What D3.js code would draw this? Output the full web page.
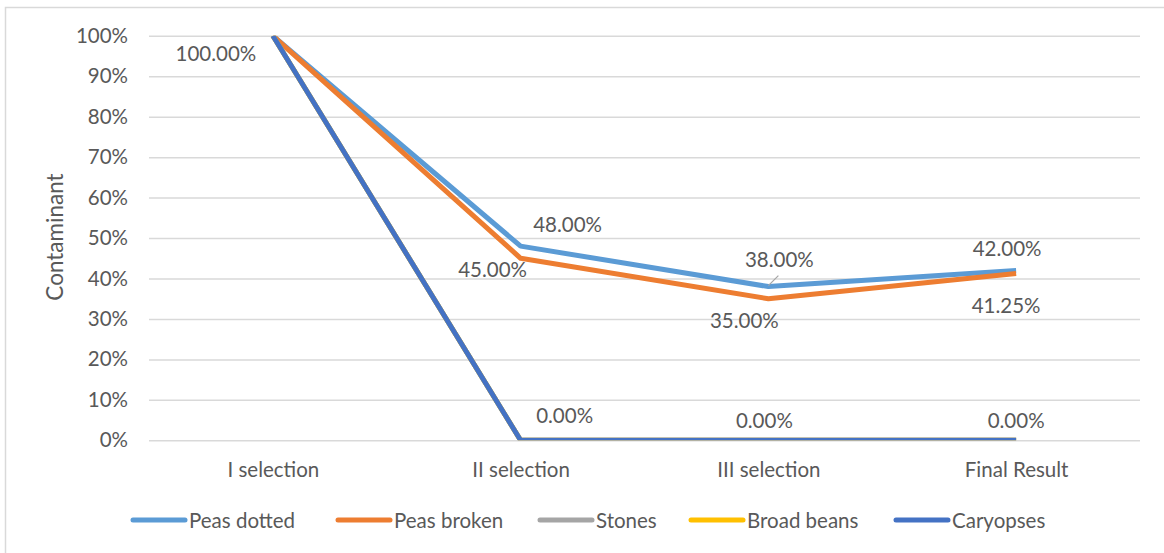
<!DOCTYPE html>
<html>
<head>
<meta charset="utf-8">
<script src="https://cdn.jsdelivr.net/npm/d3@7"></script>
<style>
  html, body { margin: 0; padding: 0; background: #fff; }
  svg { display: block; }
  text { font-family: Lato, "Open Sans", sans-serif; fill: #595959; }
</style>
</head>
<body>
<svg id="chart" width="1164" height="553"></svg>
<script>
// Selection stages along the x axis
const categories = ["I selection", "II selection", "III selection", "Final Result"];

// Share of each contaminant remaining after each stage
const peasDotted  = [1.00, 0.48, 0.38, 0.42];
const peasBroken  = [1.00, 0.45, 0.35, 0.4125];
const stones      = [1.00, 0.00, 0.00, 0.00];
const broadBeans  = [1.00, 0.00, 0.00, 0.00];
const caryopses   = [1.00, 0.00, 0.00, 0.00];

const seriesNames  = ["Peas dotted", "Peas broken", "Stones", "Broad beans", "Caryopses"];
const seriesColors = ["#5B9BD5", "#ED7D31", "#A5A5A5", "#FFC000", "#4472C4"];
const yTicks = [0, 0.1, 0.2, 0.3, 0.4, 0.5, 0.6, 0.7, 0.8, 0.9, 1.0];

const series = [peasDotted, peasBroken, stones, broadBeans, caryopses].map((values, i) => ({
  name: seriesNames[i], color: seriesColors[i], values
}));

// Data-label placement per series: point index and offset from the point
const labelPlacement = {
  "Peas dotted": [[1, 47, -22], [2, 11, -28], [3, -9, -22]],
  "Peas broken": [[1, -28, 11], [2, -24, 21], [3, -10, 32]],
  "Caryopses":   [[0, -57, 17], [1, 44, -25], [2, -4, -20], [3, 0, -20]]
};

const svg = d3.select("#chart");
const plot = { left: 149, right: 1140, top: 35.8, bottom: 440.3 };
const fontSize = "20.5px";

// Outer chart frame
svg.append("rect")
  .attr("x", 5.5).attr("y", 7.5).attr("width", 1170).attr("height", 560)
  .attr("fill", "none").attr("stroke", "#d9d9d9").attr("stroke-width", 1.5);

const x = d3.scalePoint().domain(categories).range([plot.left, plot.right]).padding(0.5);
const y = d3.scaleLinear().domain([0, 1]).range([plot.bottom, plot.top]);

// Horizontal gridlines + percent tick labels
const yAxis = d3.axisLeft(y).tickValues(yTicks).tickFormat(d3.format(".0%"))
  .tickSize(-(plot.right - plot.left)).tickPadding(21);
const gy = svg.append("g").attr("transform", `translate(${plot.left},0)`).call(yAxis);
gy.select(".domain").remove();
gy.selectAll(".tick line").attr("stroke", "#d9d9d9").attr("stroke-width", 1.5);
gy.selectAll(".tick text").style("font-size", fontSize).attr("fill", "#595959");

// Category labels
const xAxis = d3.axisBottom(x).tickSize(0).tickPadding(22);
const gx = svg.append("g").attr("transform", `translate(0,${plot.bottom})`).call(xAxis);
gx.select(".domain").remove();
gx.selectAll(".tick text").style("font-size", fontSize).attr("fill", "#595959");

// Axis title
svg.append("text")
  .attr("transform", `translate(63,237) rotate(-90)`)
  .attr("text-anchor", "middle")
  .style("font-size", "22.5px")
  .text("Contaminant");

// Lines, clipped to the plot area
svg.append("defs").append("clipPath").attr("id", "plotClip")
  .append("rect").attr("x", plot.left).attr("y", plot.top)
  .attr("width", plot.right - plot.left).attr("height", plot.bottom - plot.top);

const line = d3.line().x((d, i) => x(categories[i])).y(d => y(d));
svg.append("g").attr("clip-path", "url(#plotClip)")
  .selectAll("path").data(series).join("path")
  .attr("d", d => line(d.values))
  .attr("fill", "none")
  .attr("stroke", d => d.color)
  .attr("stroke-width", 5)
  .attr("stroke-linejoin", "round");

// Leader line for the displaced 38.00% label
const lp = [x(categories[2]), y(peasDotted[2])];
svg.append("line")
  .attr("x1", lp[0] + 10).attr("y1", lp[1] - 11)
  .attr("x2", lp[0]).attr("y2", lp[1] - 1)
  .attr("stroke", "#a6a6a6").attr("stroke-width", 1.2);

// Data labels
const pct = d3.format(".2%");
const labels = [];
series.forEach(s => {
  (labelPlacement[s.name] || []).forEach(([i, dx, dy]) => {
    labels.push({ v: s.values[i], cx: x(categories[i]) + dx, cy: y(s.values[i]) + dy });
  });
});
svg.append("g").selectAll("text").data(labels).join("text")
  .attr("x", d => d.cx).attr("y", d => d.cy)
  .attr("text-anchor", "middle").attr("dominant-baseline", "central")
  .style("font-size", fontSize)
  .text(d => pct(d.v));

// Legend
const legendX = [133, 338, 540, 691, 896];
const lg = svg.append("g").selectAll("g").data(series).join("g")
  .attr("transform", (d, i) => `translate(${legendX[i]},520)`);
lg.append("line")
  .attr("x1", 0).attr("x2", 52).attr("y1", 0).attr("y2", 0)
  .attr("stroke", d => d.color).attr("stroke-width", 5).attr("stroke-linecap", "round");
lg.append("text")
  .attr("x", 56).attr("y", 0).attr("dominant-baseline", "central")
  .style("font-size", fontSize)
  .text(d => d.name);
</script>
</body>
</html>
